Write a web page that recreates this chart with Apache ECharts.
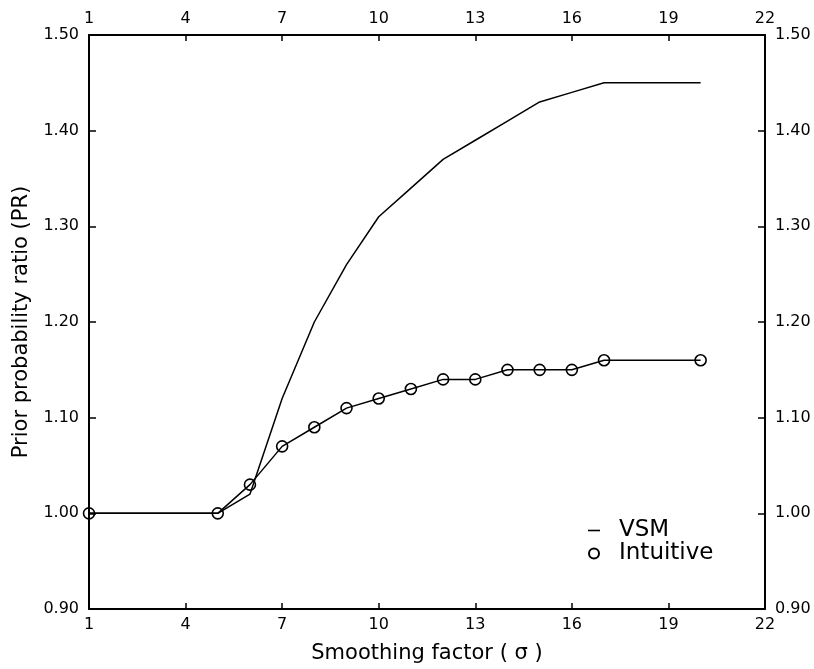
<!DOCTYPE html>
<html lang="en">
<head>
    <meta charset="UTF-8">
    <title>Prior probability ratio vs smoothing factor</title>
    <style>
        body {
            margin: 0;
            background: #fff;
        }
        #chart {
            width: 814px;
            height: 669px;
        }
    </style>
</head>
<body>
<div id="chart"></div>

<script src="https://cdn.jsdelivr.net/npm/echarts@6/dist/echarts.min.js"></script>
<script>
    // smoothing factor values where the curves have points
    const sigma = [1, 5, 6, 7, 8, 9, 10, 11, 12, 13, 14, 15, 16, 17, 20];
    const vsm = [1.00, 1.00, 1.02, 1.12, 1.20, 1.26, 1.31, 1.34, 1.37, 1.39, 1.41, 1.43, 1.44, 1.45, 1.45];
    const intuitive = [1.00, 1.00, 1.03, 1.07, 1.09, 1.11, 1.12, 1.13, 1.14, 1.14, 1.15, 1.15, 1.15, 1.16, 1.16];

    // tick labels
    const xTicks = [1, 4, 7, 10, 13, 16, 19, 22];
    const yTicks = [0.90, 1.00, 1.10, 1.20, 1.30, 1.40, 1.50];

    const font = 'DejaVu Sans';

    // x axis (bottom + top share the same look)
    function xAxis(pos) {
        return {
            type: 'value',
            position: pos,
            min: 1,
            max: 22,
            name: pos === 'bottom' ? 'Smoothing factor ( \u03c3 )' : '',
            nameLocation: 'middle',
            nameGap: 34,
            nameTextStyle: { fontFamily: font, fontSize: 21, color: '#000' },
            axisLine: { show: true, lineStyle: { color: '#000', width: 2 } },
            axisTick: { show: true, inside: true, length: 6, customValues: xTicks, lineStyle: { color: '#000', width: 1.5 } },
            axisLabel: { customValues: xTicks, margin: 8, fontFamily: font, fontSize: 16, color: '#000' },
            splitLine: { show: false }
        };
    }

    // y axis (left + right)
    function yAxis(pos) {
        return {
            type: 'value',
            position: pos,
            min: 0.9,
            max: 1.5,
            name: pos === 'left' ? 'Prior probability ratio (PR)' : '',
            nameLocation: 'middle',
            nameGap: 56,
            nameTextStyle: { fontFamily: font, fontSize: 21, color: '#000' },
            axisLine: { show: true, lineStyle: { color: '#000', width: 2 } },
            axisTick: { show: true, inside: true, length: 7, customValues: yTicks, lineStyle: { color: '#000', width: 1.5 } },
            axisLabel: {
                customValues: yTicks,
                margin: 10,
                fontFamily: font,
                fontSize: 16,
                color: '#000',
                formatter: v => v.toFixed(2)
            },
            splitLine: { show: false }
        };
    }

    const chart = echarts.init(document.getElementById('chart'));

    chart.setOption({
        animation: false,
        backgroundColor: '#fff',
        grid: {
            left: 89,
            right: 49,
            top: 35,
            bottom: 58
        },
        legend: {
            orient: 'vertical',
            left: 583,
            top: 514,
            itemWidth: 12,
            itemHeight: 10,
            itemGap: 0,
            textStyle: { fontFamily: font, fontSize: 23, color: '#000', padding: [0, 0, 0, 14] },
            data: [
                { name: 'VSM', icon: 'path://M0,0 H12 V1.6 H0 Z' },
                { name: 'Intuitive', icon: 'circle' }
            ]
        },
        xAxis: [xAxis('bottom'), xAxis('top')],
        yAxis: [yAxis('left'), yAxis('right')],
        series: [
            {
                name: 'VSM',
                type: 'line',
                data: sigma.map((s, i) => [s, vsm[i]]),
                showSymbol: false,
                symbol: 'none',
                itemStyle: { color: '#000' },
                lineStyle: { color: '#000', width: 1.5 }
            },
            {
                name: 'Intuitive',
                type: 'line',
                data: sigma.map((s, i) => [s, intuitive[i]]),
                symbol: 'circle',
                symbolSize: 11,
                clip: false,
                itemStyle: { color: 'rgba(0,0,0,0)', borderColor: '#000', borderWidth: 1.6 },
                lineStyle: { color: '#000', width: 1.5 }
            }
        ]
    });
</script>
</body>
</html>
